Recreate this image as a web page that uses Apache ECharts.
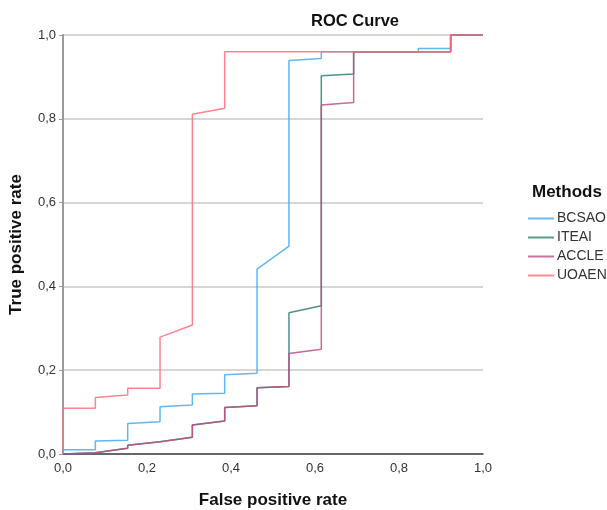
<!DOCTYPE html>
<html>
<head>
<meta charset="utf-8">
<script src="https://cdn.jsdelivr.net/npm/echarts@6/dist/echarts.min.js"></script>
<style>
  html, body { margin: 0; padding: 0; background: #fff; }
  #chart { width: 607px; height: 510px; }
</style>
</head>
<body>
<div id="chart"></div>
<script>
// ROC points (false positive rate / true positive rate)
var methods = ['BCSAO', 'ITEAI', 'ACCLE', 'UOAEN'];
var colors = ['#45aaf2', '#2f7f72', '#bf4f82', '#ff6f7c'];

var bcsaoFpr = [0, 0, 0.077, 0.077, 0.154, 0.154, 0.231, 0.231, 0.308, 0.308, 0.385, 0.385, 0.462, 0.462, 0.538, 0.538, 0.615, 0.615, 0.846, 0.846, 0.923, 0.923, 1];
var bcsaoTpr = [0, 0.010, 0.010, 0.031, 0.033, 0.073, 0.077, 0.113, 0.117, 0.143, 0.145, 0.189, 0.193, 0.441, 0.496, 0.939, 0.944, 0.960, 0.960, 0.968, 0.968, 1, 1];

var iteaiFpr = [0, 0.077, 0.154, 0.154, 0.231, 0.231, 0.308, 0.308, 0.385, 0.385, 0.462, 0.462, 0.538, 0.538, 0.615, 0.615, 0.692, 0.692, 0.923, 0.923, 1];
var iteaiTpr = [0, 0.003, 0.014, 0.021, 0.029, 0.033, 0.040, 0.069, 0.079, 0.111, 0.115, 0.158, 0.161, 0.337, 0.354, 0.903, 0.907, 0.960, 0.960, 1, 1];

var accleFpr = [0, 0.077, 0.154, 0.154, 0.231, 0.231, 0.308, 0.308, 0.385, 0.385, 0.462, 0.462, 0.538, 0.538, 0.615, 0.615, 0.692, 0.692, 0.923, 0.923, 1];
var accleTpr = [0, 0.003, 0.014, 0.021, 0.029, 0.033, 0.040, 0.069, 0.079, 0.111, 0.115, 0.158, 0.161, 0.240, 0.250, 0.833, 0.839, 0.960, 0.960, 1, 1];

var uoaenFpr = [0, 0, 0.077, 0.077, 0.154, 0.154, 0.231, 0.231, 0.308, 0.308, 0.385, 0.385, 0.923, 0.923, 1];
var uoaenTpr = [0, 0.109, 0.109, 0.135, 0.141, 0.157, 0.157, 0.279, 0.308, 0.811, 0.825, 0.960, 0.960, 1, 1];

function pairs(xs, ys) {
  var out = [];
  for (var i = 0; i < xs.length; i++) out.push([xs[i], ys[i]]);
  return out;
}

var seriesData = [
  pairs(bcsaoFpr, bcsaoTpr),
  pairs(iteaiFpr, iteaiTpr),
  pairs(accleFpr, accleTpr),
  pairs(uoaenFpr, uoaenTpr)
];

function fmt(v) {
  return v.toFixed(1).replace('.', ',');
}

var font = 'Liberation Sans, Arial';
var myChart = echarts.init(document.getElementById('chart'));

var series = methods.map(function (name, i) {
  return {
    name: name,
    type: 'line',
    data: seriesData[i],
    showSymbol: false,
    symbol: 'none',
    smooth: false,
    lineStyle: { color: colors[i], width: 1.5, opacity: 0.85 },
    itemStyle: { color: colors[i] }
  };
});

myChart.setOption({
  animation: false,
  title: [
    {
      text: 'ROC Curve',
      left: 306,
      top: 8,
      textStyle: { fontFamily: font, fontSize: 16.5, fontWeight: 'bold', color: '#111' }
    },
    {
      text: 'Methods',
      left: 527,
      top: 179,
      textStyle: { fontFamily: font, fontSize: 17, fontWeight: 'bold', color: '#111' }
    }
  ],
  legend: {
    orient: 'vertical',
    left: 523,
    top: 206,
    icon: 'rect',
    itemWidth: 26,
    itemHeight: 2,
    itemGap: 4,
    textStyle: { fontFamily: font, fontSize: 14, color: '#333', padding: [0, 0, 0, -2], lineHeight: 15 },
    data: methods.map(function (m, i) {
      return { name: m, itemStyle: { color: colors[i], opacity: 0.8 } };
    })
  },
  grid: { left: 63, right: 124, top: 35, bottom: 56, containLabel: false, outerBoundsMode: 'none' },
  xAxis: {
    type: 'value',
    min: 0,
    max: 1,
    interval: 0.2,
    name: 'False positive rate',
    nameLocation: 'middle',
    nameGap: 38,
    nameTextStyle: { fontFamily: font, fontSize: 17, fontWeight: 'bold', color: '#111' },
    axisLine: { lineStyle: { color: '#444', width: 1.5 } },
    axisTick: { show: false },
    splitLine: { show: false },
    axisLabel: {
      formatter: fmt,
      margin: 8,
      fontFamily: font,
      fontSize: 13,
      color: '#333'
    }
  },
  yAxis: {
    type: 'value',
    min: 0,
    max: 1,
    interval: 0.2,
    name: 'True positive rate',
    nameLocation: 'middle',
    nameGap: 38,
    nameTextStyle: { fontFamily: font, fontSize: 17, fontWeight: 'bold', color: '#111' },
    axisLine: { show: true, lineStyle: { color: '#999', width: 2 } },
    axisTick: { show: true, length: 4, lineStyle: { color: '#999' } },
    splitLine: { show: true, lineStyle: { color: '#c8c8c8', width: 1.5 } },
    axisLabel: {
      formatter: fmt,
      margin: 7,
      fontFamily: font,
      fontSize: 13,
      color: '#333'
    }
  },
  series: series
});
</script>
</body>
</html>
